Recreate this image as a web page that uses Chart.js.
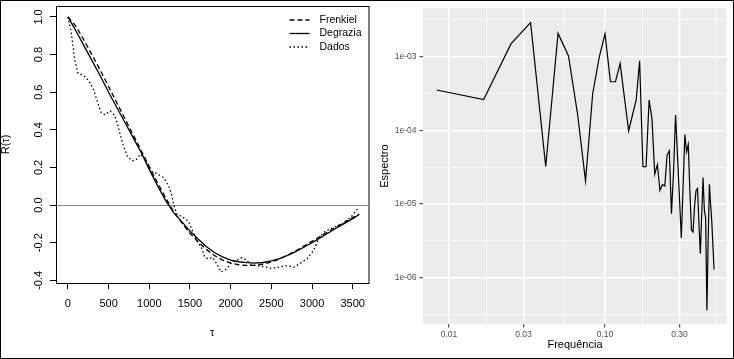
<!DOCTYPE html>
<html>
<head>
<meta charset="utf-8">
<script src="https://cdn.jsdelivr.net/npm/chart.js@4.4.0/dist/chart.umd.min.js"></script>
<style>
  body { margin: 0; background: #fff; }
  #frame { position: absolute; left: 0; top: 0; width: 734px; height: 359px; box-sizing: border-box; border: 1px solid #000; pointer-events: none; z-index: 2; }
  #left { position: absolute; left: 0; top: 0; }
  #right { position: absolute; left: 373px; top: 0; }
</style>
</head>
<body>
<canvas id="left" width="373" height="359"></canvas>
<canvas id="right" width="361" height="359"></canvas>
<div id="frame"></div>
<script>
const FONT = "'Liberation Sans', Arial, sans-serif";

// left panel: autocorrelation
const tau = [0, 100, 200, 300, 400, 500, 600, 700, 800, 900, 1000, 1100, 1200, 1300, 1400, 1500, 1600, 1700,
  1800, 1900, 2000, 2100, 2200, 2300, 2400, 2500, 2600, 2700, 2800, 2900, 3000, 3100, 3200, 3300, 3400, 3500, 3580];
const frenkiel = [1.0, 0.95, 0.875, 0.795, 0.715, 0.63, 0.545, 0.46, 0.375, 0.29, 0.205, 0.12, 0.04, -0.035,
  -0.095, -0.15, -0.195, -0.235, -0.268, -0.292, -0.308, -0.317, -0.321, -0.32, -0.314, -0.302, -0.286, -0.266,
  -0.243, -0.218, -0.192, -0.166, -0.14, -0.115, -0.09, -0.066, -0.047];
const degrazia = [1.0, 0.925, 0.845, 0.765, 0.685, 0.6, 0.52, 0.44, 0.36, 0.28, 0.19, 0.105, 0.025, -0.04,
  -0.088, -0.138, -0.18, -0.22, -0.252, -0.275, -0.292, -0.301, -0.306, -0.308, -0.305, -0.297, -0.284, -0.267,
  -0.247, -0.224, -0.2, -0.174, -0.148, -0.122, -0.097, -0.072, -0.05];
const dadosTau = [0, 40, 85, 125, 190, 250, 310, 370, 410, 460, 520, 570, 610, 670, 730, 790, 840, 890, 940, 1015,
  1080, 1180, 1240, 1280, 1300, 1340, 1400, 1480, 1540, 1600, 1640, 1680, 1720, 1780, 1840, 1880, 1950, 2000, 2065,
  2130, 2190, 2250, 2330, 2430, 2490, 2550, 2650, 2700, 2775, 2855, 2940, 3020, 3080, 3140, 3260, 3380, 3480, 3560];
const dados = [1.0, 0.92, 0.77, 0.7, 0.69, 0.665, 0.62, 0.54, 0.49, 0.48, 0.5, 0.48, 0.43, 0.33, 0.26, 0.235, 0.24,
  0.27, 0.25, 0.18, 0.17, 0.145, 0.1, 0.05, 0.0, -0.05, -0.06, -0.085, -0.145, -0.2, -0.225, -0.275, -0.285, -0.278,
  -0.32, -0.355, -0.34, -0.31, -0.295, -0.28, -0.29, -0.317, -0.322, -0.328, -0.335, -0.333, -0.325, -0.322, -0.33,
  -0.31, -0.285, -0.24, -0.18, -0.145, -0.12, -0.098, -0.063, -0.02];
const acfTicksX = [0, 500, 1000, 1500, 2000, 2500, 3000, 3500];
const acfLabelsX = ['0', '500', '1000', '1500', '2000', '2500', '3000', '3500'];
const acfTicksY = [-0.4, -0.2, 0, 0.2, 0.4, 0.6, 0.8, 1.0];
const acfLabelsY = ['-0.4', '-0.2', '0.0', '0.2', '0.4', '0.6', '0.8', '1.0'];

// right panel: spectrum
const freq = [0.00833, 0.01667, 0.025, 0.03333, 0.04167, 0.05, 0.05833, 0.06667, 0.075, 0.08333,
  0.09167, 0.1, 0.10833, 0.11667, 0.125, 0.13333, 0.14167, 0.15, 0.15833, 0.16667,
  0.175, 0.18333, 0.19167, 0.2, 0.20833, 0.21667, 0.225, 0.23333, 0.24167, 0.25,
  0.25833, 0.26667, 0.275, 0.28333, 0.29167, 0.3, 0.30833, 0.31667, 0.325, 0.33333,
  0.34167, 0.35, 0.35833, 0.36667, 0.375, 0.38333, 0.39167, 0.4, 0.40833, 0.41667,
  0.425, 0.43333, 0.44167, 0.45, 0.45833, 0.46667, 0.475, 0.48333, 0.49167, 0.5];
const espectro = [3.52e-4, 2.61e-4, 1.5e-3, 2.9e-3, 3.21e-5, 2.07e-3, 1.02e-3, 1.66e-4, 2.05e-5, 3.11e-4,
  9.7e-4, 2.04e-3, 4.56e-4, 4.56e-4, 8.05e-4, 2.72e-4, 9.8e-5, 1.61e-4, 2.56e-4, 8.75e-4,
  3.21e-5, 3.21e-5, 2.58e-4, 1.42e-4, 2.54e-5, 3.41e-5, 1.52e-5, 1.82e-5, 1.75e-5, 4.58e-5,
  5.26e-5, 7.36e-6, 2.75e-5, 1.61e-4, 4.38e-5, 1.23e-5, 3.44e-6, 1.73e-5, 8.73e-5, 5.1e-5,
  6.4e-5, 1.48e-5, 4.42e-6, 4.15e-6, 9.3e-6, 1.52e-5, 1.62e-5, 5.48e-6, 2.1e-6, 7.03e-6,
  2.28e-5, 8.2e-6, 6.4e-6, 3.59e-7, 3.14e-6, 1.84e-5, 9.9e-6, 5.83e-6, 2.69e-6, 1.28e-6];
const specTicksX = [0.01, 0.03, 0.1, 0.3];
const specLabelsX = ['0.01', '0.03', '0.10', '0.30'];
const specTicksY = [1e-6, 1e-5, 1e-4, 1e-3];
const specLabelsY = ['1e-06', '1e-05', '1e-04', '1e-03'];

const pts = (xs, ys) => xs.map((x, i) => ({ x, y: ys[i] }));

// R-style box, rotated y labels and legend
const rPlot = {
  id: 'rplot',
  afterDraw(chart) {
    const { ctx, chartArea: a } = chart;
    const ys = chart.scales.y;
    ctx.save();
    ctx.strokeStyle = '#000';
    ctx.lineWidth = 1;
    ctx.strokeRect(a.left + 0.5, a.top + 0.5, a.right - a.left, a.bottom - a.top);

    ctx.fillStyle = '#000';
    ctx.font = `11px ${FONT}`;
    ctx.textAlign = 'center';
    ctx.textBaseline = 'middle';
    acfTicksY.forEach((v, i) => {
      ctx.save();
      ctx.translate(a.left - 17, ys.getPixelForValue(v));
      ctx.rotate(-Math.PI / 2);
      ctx.fillText(acfLabelsY[i], 0, 0);
      ctx.restore();
    });

    ctx.font = `10.5px ${FONT}`;
    ctx.textAlign = 'left';
    chart.data.datasets.forEach((ds, i) => {
      const y = a.top + 14 + i * 13.5;
      ctx.setLineDash(ds.borderDash || []);
      ctx.lineWidth = ds.borderWidth;
      ctx.beginPath();
      ctx.moveTo(a.right - 79, y);
      ctx.lineTo(a.right - 59, y);
      ctx.stroke();
      ctx.setLineDash([]);
      ctx.fillText(ds.label, a.right - 49, y);
    });
    ctx.restore();
  },
};

new Chart(document.getElementById('left'), {
  type: 'line',
  data: {
    datasets: [
      { label: 'Frenkiel', data: pts(tau, frenkiel), borderColor: '#000', borderWidth: 1.3, borderDash: [5, 3] },
      { label: 'Degrazia', data: pts(tau, degrazia), borderColor: '#000', borderWidth: 1.3 },
      { label: 'Dados', data: pts(dadosTau, dados), borderColor: '#000', borderWidth: 1.3, borderDash: [1.5, 2.5] },
    ],
  },
  options: {
    responsive: false,
    animation: false,
    layout: { padding: { left: 0, top: 6, right: 1, bottom: 0 } },
    plugins: { legend: { display: false }, tooltip: { enabled: false } },
    elements: { point: { radius: 0 }, line: { tension: 0 } },
    scales: {
      x: {
        type: 'linear',
        min: -146,
        max: 3694,
        afterBuildTicks: (s) => { s.ticks = acfTicksX.map((v) => ({ value: v })); },
        afterFit: (s) => { s.height = 76; },
        border: { display: false },
        grid: { drawOnChartArea: false, drawTicks: true, tickLength: 6, tickColor: '#000', lineWidth: 1 },
        ticks: {
          color: '#000',
          font: { family: FONT, size: 11 },
          padding: 8,
          maxRotation: 0,
          autoSkip: false,
          callback: (v, i) => acfLabelsX[i],
        },
        title: {
          display: true,
          text: 'τ',
          color: '#000',
          font: { family: FONT, size: 11, lineHeight: 1 },
          padding: { top: 0, bottom: 21 },
        },
      },
      y: {
        type: 'linear',
        min: -0.414,
        max: 1.058,
        afterBuildTicks: (s) => { s.ticks = acfTicksY.map((v) => ({ value: v })); },
        afterFit: (s) => { s.width = 56; },
        border: { display: false },
        grid: {
          drawOnChartArea: true,
          color: (c) => (c.tick && c.tick.value === 0 ? '#8a8a8a' : 'rgba(0,0,0,0)'),
          drawTicks: true,
          tickLength: 6,
          tickColor: '#000',
          lineWidth: 1,
        },
        ticks: { display: false },
        title: {
          display: true,
          text: 'R(τ)',
          color: '#000',
          font: { family: FONT, size: 11, lineHeight: 1 },
          padding: { top: 0, bottom: 0 },
        },
      },
    },
  },
  plugins: [rPlot],
});

// ggplot-like panel
function logMinor(majors) {
  const n = majors.length;
  const out = [majors[0] / Math.sqrt(majors[1] / majors[0])];
  for (let i = 0; i < n - 1; i++) out.push(Math.sqrt(majors[i] * majors[i + 1]));
  out.push(majors[n - 1] * Math.sqrt(majors[n - 1] / majors[n - 2]));
  return out;
}

function logTicks(majors, labels) {
  return (s) => {
    s.ticks = majors.map((v, i) => ({ value: v, lab: labels[i], minor: false }))
      .concat(logMinor(majors).map((v) => ({ value: v, lab: '', minor: true })))
      .filter((t) => t.value >= s.min && t.value <= s.max)
      .sort((a, b) => a.value - b.value);
  };
}

const isMinor = (c) => c.tick && c.tick.minor;

const panelBg = {
  id: 'panelBg',
  beforeDraw(chart) {
    const { ctx, chartArea: a } = chart;
    ctx.save();
    ctx.fillStyle = '#EBEBEB';
    ctx.fillRect(a.left, a.top, a.right - a.left, a.bottom - a.top);
    ctx.restore();
  },
};

const gridOpts = {
  color: '#fff',
  lineWidth: (c) => (isMinor(c) ? 0.7 : 1.4),
  drawTicks: true,
  tickLength: 3.5,
  tickWidth: 1,
  tickColor: (c) => (isMinor(c) ? 'rgba(0,0,0,0)' : '#333'),
};

new Chart(document.getElementById('right'), {
  type: 'line',
  data: {
    datasets: [
      { label: 'Espectro', data: pts(freq, espectro), borderColor: '#000', borderWidth: 1.2 },
    ],
  },
  options: {
    responsive: false,
    animation: false,
    layout: { padding: { left: 0, top: 5, right: 7, bottom: 0 } },
    plugins: { legend: { display: false }, tooltip: { enabled: false } },
    elements: { point: { radius: 0 }, line: { tension: 0 } },
    scales: {
      x: {
        type: 'logarithmic',
        min: 0.00681,
        max: 0.6053,
        afterBuildTicks: logTicks(specTicksX, specLabelsX),
        afterFit: (s) => { s.height = 35; },
        border: { display: false },
        grid: gridOpts,
        ticks: {
          color: '#4D4D4D',
          font: { family: FONT, size: 8.5 },
          padding: 2,
          maxRotation: 0,
          autoSkip: false,
          callback: (v, i, ticks) => ticks[i].lab,
        },
        title: {
          display: true,
          text: 'Frequência',
          color: '#000',
          font: { family: FONT, size: 11 },
          padding: { top: 0, bottom: 7.4 },
        },
      },
      y: {
        type: 'logarithmic',
        min: 2.33e-7,
        max: 4.565e-3,
        afterBuildTicks: logTicks(specTicksY, specLabelsY),
        afterFit: (s) => { s.width = 50; },
        border: { display: false },
        grid: gridOpts,
        ticks: {
          color: '#4D4D4D',
          font: { family: FONT, size: 8.5 },
          padding: 3,
          autoSkip: false,
          callback: (v, i, ticks) => ticks[i].lab,
        },
        title: {
          display: true,
          text: 'Espectro',
          color: '#000',
          font: { family: FONT, size: 11 },
          padding: { top: 5.4, bottom: 0 },
        },
      },
    },
  },
  plugins: [panelBg],
});
</script>
</body>
</html>
